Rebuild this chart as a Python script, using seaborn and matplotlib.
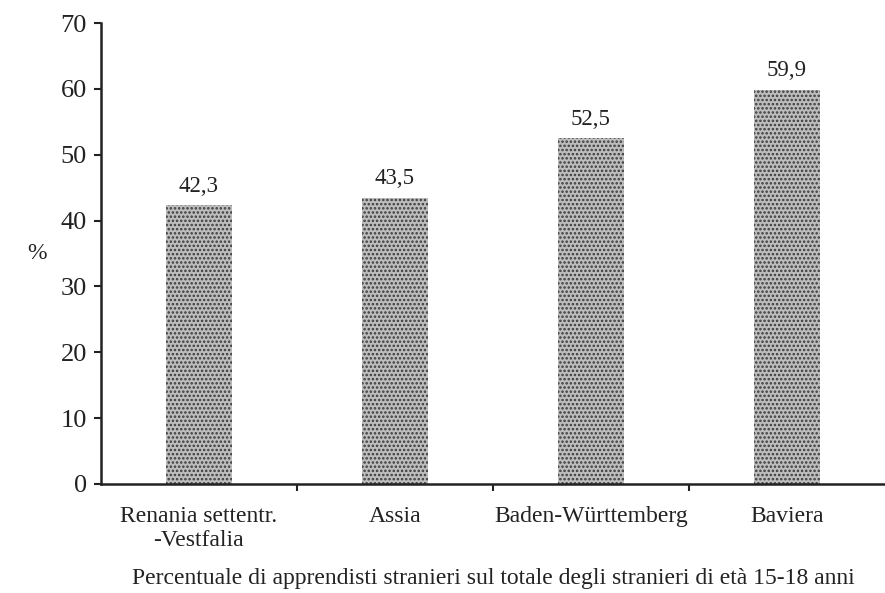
import matplotlib
matplotlib.use("Agg")
import matplotlib.pyplot as plt
import seaborn as sns
import pandas as pd
from matplotlib.ticker import FixedLocator

categories = ["Renania settentr.\n-Vestfalia", "Assia", "Baden-Württemberg", "Baviera"]
values = [42.3, 43.5, 52.5, 59.9]
yticks = [0, 10, 20, 30, 40, 50, 60, 70]

sns.set_theme(style="ticks")
plt.rcParams['font.family'] = ['Liberation Serif', 'DejaVu Serif']
plt.rcParams['hatch.linewidth'] = 1.2

df = pd.DataFrame({"cat": categories, "val": values})

fig = plt.figure(figsize=(8.85, 5.93), dpi=100)
ax = fig.add_axes([0.114, 0.184, 0.886, 0.777])

sns.barplot(data=df, x="cat", y="val", ax=ax, width=0.34,
            color="#bdbdbd", saturation=1)
for p in ax.patches:
    p.set_hatch("....")
    p.set_edgecolor("#3a3a3a")
    p.set_linewidth(0)

ax.bar_label(ax.containers[0], labels=[f"{v:.1f}".replace(".", ",") for v in values],
             padding=6, fontsize=16.5, color="#222222")

ax.set_ylim(0, 70)
ax.set_xlim(-0.5, 3.5)
ax.set_yticks(yticks)
ax.set_yticklabels([str(t) for t in yticks], fontsize=19, color="#222222")
ax.tick_params(axis="y", length=5, width=1.5, color="#222222", pad=5)
ax.tick_params(axis="x", which="major", length=0, pad=16, labelsize=17, labelcolor="#222222")
ax.xaxis.set_minor_locator(FixedLocator([0.5, 1.5, 2.5]))
ax.tick_params(axis="x", which="minor", length=5, width=1.5, color="#222222")

sns.despine(ax=ax)
for s in ["left", "bottom"]:
    ax.spines[s].set_linewidth(1.8)
    ax.spines[s].set_color("#222222")

ax.set_ylabel("%", rotation=0, fontsize=17, labelpad=17, va="center", color="#222222")
ax.set_xlabel("Percentuale di apprendisti stranieri sul totale degli stranieri di età 15-18 anni",
              fontsize=17, labelpad=12, color="#222222")

fig.savefig("out.png", dpi=100, facecolor="white")
